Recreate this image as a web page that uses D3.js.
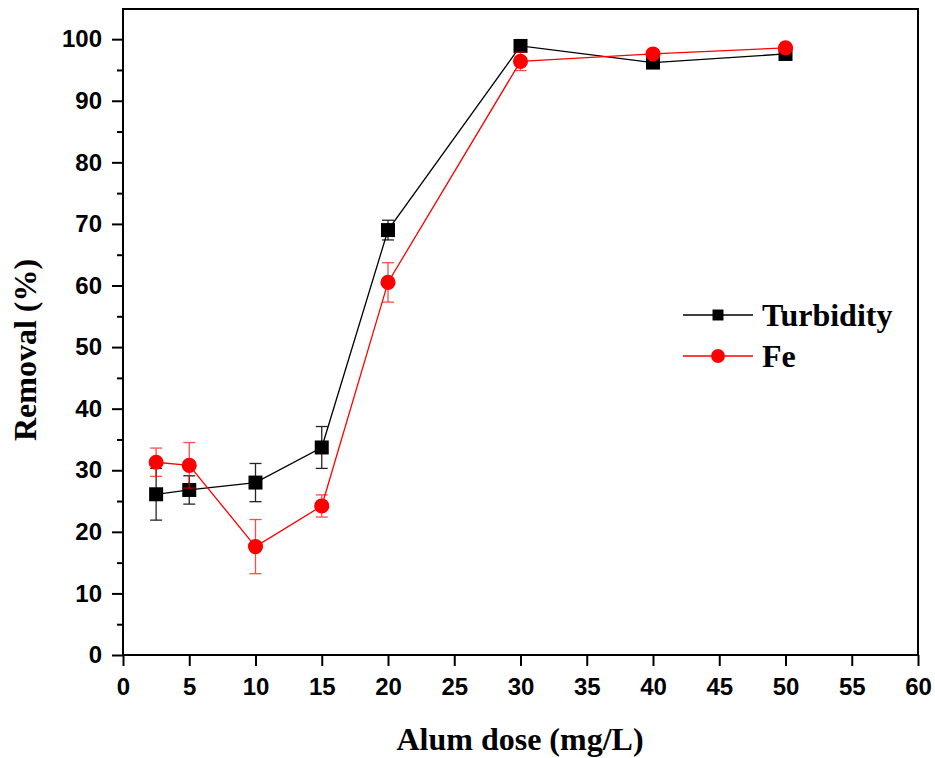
<!DOCTYPE html>
<html>
<head>
<meta charset="utf-8">
<script src="https://cdn.jsdelivr.net/npm/d3@7"></script>
<style>
body { margin: 0; background: #fff; }
</style>
</head>
<body>
<svg id="mainSVG" width="935" height="758"></svg>
<script>
// alum dose (mg/L)
var dose = [2.5, 5, 10, 15, 20, 30, 40, 50];
// removal (%) and std dev
var turbidity = [26.1, 26.8, 28.0, 33.7, 69.0, 98.9, 96.2, 97.6];
var turbidityErr = [4.2, 2.3, 3.1, 3.4, 1.6, 0.3, 0.3, 0.3];
var fe = [31.3, 30.8, 17.6, 24.2, 60.5, 96.4, 97.6, 98.6];
var feErr = [2.3, 3.7, 4.4, 1.8, 3.2, 1.5, 0.4, 0.4];
var xTicks = [0, 5, 10, 15, 20, 25, 30, 35, 40, 45, 50, 55, 60];
var yTicks = [0, 10, 20, 30, 40, 50, 60, 70, 80, 90, 100];

var svg = d3.select("#mainSVG");
var plotLeft = 123, plotRight = 918, plotTop = 9, plotBottom = 655;

var x = d3.scaleLinear().domain([0, 60]).range([plotLeft, plotRight]);
var y = d3.scaleLinear().domain([0, 104.9]).range([plotBottom, plotTop]);

// frame
svg.append("rect")
  .attr("x", plotLeft).attr("y", plotTop)
  .attr("width", plotRight - plotLeft).attr("height", plotBottom - plotTop)
  .attr("fill", "none").attr("stroke", "#000").attr("stroke-width", 2);

var tickFont = "'Liberation Sans', Arial, sans-serif";
var titleFont = "'Liberation Serif', 'Times New Roman', serif";

var xAxis = svg.append("g")
  .attr("transform", "translate(0," + plotBottom + ")")
  .call(d3.axisBottom(x).tickValues(xTicks).tickSize(11).tickPadding(12));
xAxis.select(".domain").remove();

var yAxis = svg.append("g")
  .attr("transform", "translate(" + plotLeft + ",0)")
  .call(d3.axisLeft(y).tickValues(yTicks).tickSize(11).tickPadding(10));
yAxis.select(".domain").remove();

// minor y ticks
svg.append("g")
  .attr("transform", "translate(" + plotLeft + ",0)")
  .call(d3.axisLeft(y).tickValues(d3.range(5, 105, 10)).tickSize(6).tickFormat(""))
  .select(".domain").remove();

svg.selectAll(".tick line").attr("stroke", "#000").attr("stroke-width", 2);
svg.selectAll(".tick text")
  .attr("fill", "#000")
  .style("font-family", tickFont)
  .style("font-weight", "bold")
  .style("font-size", "24px");

// axis titles
svg.append("text")
  .attr("x", 520).attr("y", 750)
  .attr("text-anchor", "middle")
  .style("font-family", titleFont)
  .style("font-weight", "bold").style("font-size", "32px")
  .text("Alum dose (mg/L)");

svg.append("text")
  .attr("transform", "translate(36,350) rotate(-90)")
  .attr("text-anchor", "middle")
  .style("font-family", titleFont)
  .style("font-weight", "bold").style("font-size", "32px")
  .text("Removal (%)");

function drawSeries(vals, errs, color, shape) {
  var g = svg.append("g");
  var line = d3.line()
    .x(function(d, i) { return x(dose[i]); })
    .y(function(d) { return y(d); });
  g.append("path")
    .datum(vals)
    .attr("d", line)
    .attr("fill", "none")
    .attr("stroke", color)
    .attr("stroke-width", 1.3);

  var eb = g.selectAll(".eb").data(vals).enter().append("g")
    .attr("stroke", color).attr("stroke-width", 1.3)
    .attr("opacity", color == "#000" ? 0.85 : 0.7);
  eb.append("line")
    .attr("x1", function(d, i) { return x(dose[i]); })
    .attr("x2", function(d, i) { return x(dose[i]); })
    .attr("y1", function(d, i) { return y(d + errs[i]); })
    .attr("y2", function(d, i) { return y(d - errs[i]); });
  [1, -1].forEach(function(s) {
    eb.append("line")
      .attr("x1", function(d, i) { return x(dose[i]) - 6; })
      .attr("x2", function(d, i) { return x(dose[i]) + 6; })
      .attr("y1", function(d, i) { return y(d + s * errs[i]); })
      .attr("y2", function(d, i) { return y(d + s * errs[i]); });
  });

  var sym = d3.symbol().type(shape).size(shape == d3.symbolSquare ? 196 : 180);
  g.selectAll(".pt").data(vals).enter().append("path")
    .attr("d", sym)
    .attr("transform", function(d, i) { return "translate(" + x(dose[i]) + "," + y(d) + ")"; })
    .attr("fill", color);
}

drawSeries(turbidity, turbidityErr, "#000", d3.symbolSquare);
drawSeries(fe, feErr, "#ff0000", d3.symbolCircle);

// legend
var legend = [
  {name: "Turbidity", color: "#000", shape: d3.symbolSquare, size: 120, y: 315},
  {name: "Fe", color: "#ff0000", shape: d3.symbolCircle, size: 150, y: 356}
];
legend.forEach(function(l) {
  svg.append("line")
    .attr("x1", 683).attr("x2", 753)
    .attr("y1", l.y).attr("y2", l.y)
    .attr("stroke", l.color).attr("stroke-width", 1.3);
  svg.append("path")
    .attr("d", d3.symbol().type(l.shape).size(l.size))
    .attr("transform", "translate(718," + l.y + ")")
    .attr("fill", l.color);
  svg.append("text")
    .attr("x", 762).attr("y", l.y + 11)
    .style("font-family", titleFont)
    .style("font-weight", "bold").style("font-size", "32px")
    .text(l.name);
});
</script>
</body>
</html>
